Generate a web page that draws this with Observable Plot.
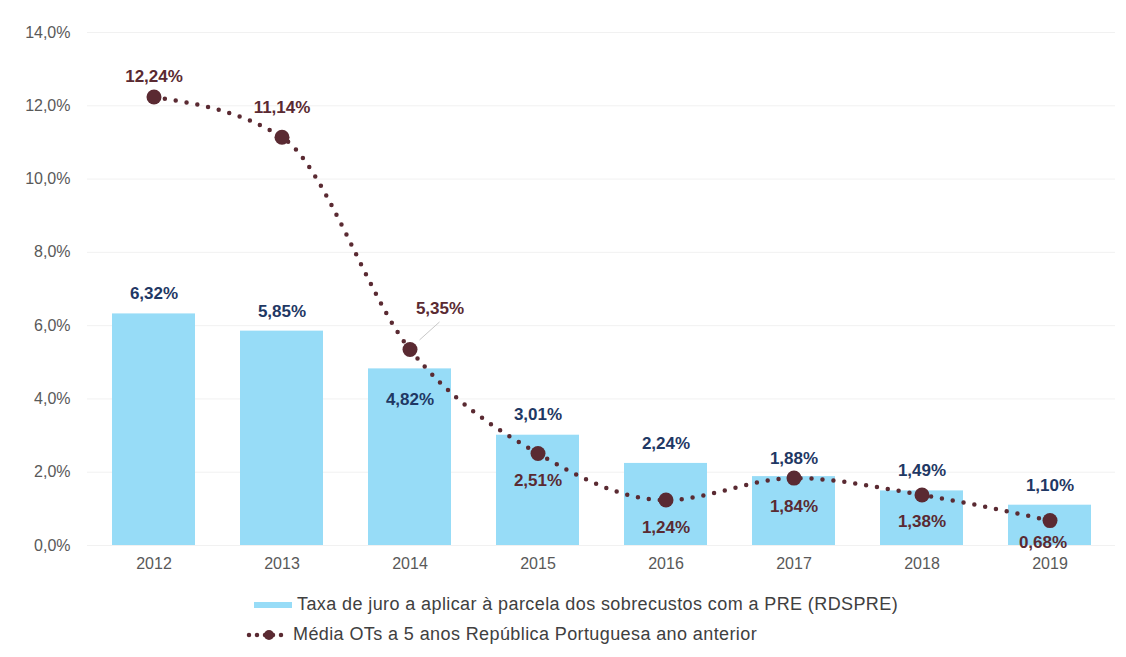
<!DOCTYPE html>
<html><head><meta charset="utf-8">
<script src="https://cdn.jsdelivr.net/npm/d3@7"></script>
<script src="https://cdn.jsdelivr.net/npm/@observablehq/plot@0.6"></script>
<style>
body{margin:0;background:#fff;font-family:"Liberation Sans",Arial,sans-serif;}
#legend{position:relative;height:77px;}
.lg{position:absolute;display:flex;align-items:center;font-size:18px;letter-spacing:0.4px;color:#404040;font-family:"Liberation Sans",Arial,sans-serif;}
</style></head><body>
<div id="chart"></div>
<div id="legend">
  <div class="lg" style="left:254px;top:14px"><svg width="40" height="10"><rect x="0" y="2" width="38" height="6" fill="#97dcf7"/></svg><span style="margin-left:3px">Taxa de juro a aplicar à parcela dos sobrecustos com a PRE (RDSPRE)</span></div>
  <div class="lg" style="left:246px;top:44px"><svg width="46" height="14"><line x1="3" y1="7" x2="43" y2="7" stroke="#5a2a32" stroke-width="4.5" stroke-dasharray="0,8" stroke-linecap="round"/><circle cx="23" cy="7" r="5" fill="#5a2a32"/></svg><span style="margin-left:1px">Média OTs a 5 anos República Portuguesa ano anterior</span></div>
</div>
<script>
const years = ["2012","2013","2014","2015","2016","2017","2018","2019"];
const rdspre = [6.32, 5.85, 4.82, 3.01, 2.24, 1.88, 1.49, 1.10];
const ots = [12.24, 11.14, 5.35, 2.51, 1.24, 1.84, 1.38, 0.68];
const yTicks = [0, 2, 4, 6, 8, 10, 12, 14];

// label placement offsets (styling)
const barLabelDy = [-20, -20, 31, -21, -20, -18, -20, -20];
const lineLabelDx = [0, 0, 30, 0, 0, 0, 0, -7];
const lineLabelDy = [-20, -30, -41, 27, 27, 28, 27, 22];

const fmt = v => v.toFixed(2).replace(".", ",") + "%";
const tfmt = v => v.toFixed(1).replace(".", ",") + "%";

const bars = years.map((y, i) => ({year: y, v: rdspre[i], dy: barLabelDy[i]}));
const pts = years.map((y, i) => ({year: y, v: ots[i], dx: lineLabelDx[i], dy: lineLabelDy[i]}));

const navy = "#1f3864", maroon = "#5a2a32";
const marks = [
  Plot.gridY(yTicks, {stroke: "#f1f1f1", strokeOpacity: 1}),
  Plot.barY(bars, {x: "year", y: "v", fill: "#97dcf7"}),
  Plot.line(pts, {x: "year", y: "v", stroke: maroon, strokeWidth: 4.5, strokeDasharray: "0,11", strokeLinecap: "round", curve: "monotone-x"}),
  Plot.dot(pts, {x: "year", y: "v", r: 7.5, fill: maroon})
];
years.forEach((y, i) => {
  marks.push(Plot.text([bars[i]], {x: "year", y: "v", text: d => fmt(d.v), dy: bars[i].dy, fill: navy, fontWeight: "bold", fontSize: 17}));
  marks.push(Plot.text([pts[i]], {x: "year", y: "v", text: d => fmt(d.v), dx: pts[i].dx, dy: pts[i].dy, fill: maroon, fontWeight: "bold", fontSize: 17}));
});

const chart = Plot.plot({
  width: 1126, height: 580,
  marginLeft: 87, marginRight: 11, marginTop: 32, marginBottom: 35,
  style: {fontFamily: "'Liberation Sans', Arial, sans-serif", fontSize: "16px", color: "#595959", background: "#fff"},
  x: {domain: years, paddingInner: 0.355, paddingOuter: 0.1775, label: null, tickSize: 0, tickPadding: 12},
  y: {domain: [0, 14], ticks: yTicks, tickFormat: tfmt, label: null, tickSize: 0, tickPadding: 17},
  marks
});
// leader line for the 2014 OT label, positioned via the chart's scales
const sx = chart.scale("x"), sy = chart.scale("y");
const cx = sx.apply("2014") + sx.bandwidth / 2, cy = sy.apply(ots[2]);
d3.select(chart).append("line")
  .attr("x1", cx + 10).attr("y1", cy - 9).attr("x2", cx + 30).attr("y2", cy - 27)
  .attr("stroke", "#c8c8c8").attr("stroke-width", 1);
document.getElementById("chart").append(chart);
</script>
</body></html>
